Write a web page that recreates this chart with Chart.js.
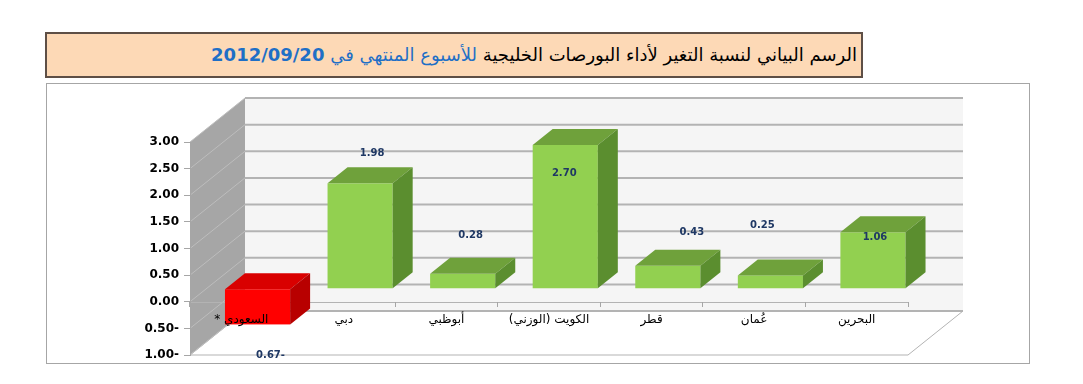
<!DOCTYPE html>
<html lang="ar">
<head>
<meta charset="utf-8">
<title>الرسم البياني لنسبة التغير لأداء البورصات الخليجية</title>
<script src="https://cdn.jsdelivr.net/npm/chart.js@4.4.1/dist/chart.umd.min.js"></script>
<style>
  html, body { margin: 0; padding: 0; background: #fff; }
  body { width: 1083px; height: 384px; position: relative; overflow: hidden; font-family: "DejaVu Sans", sans-serif; }
  #title {
    position: absolute; left: 45px; top: 32px; width: 818px; height: 46px;
    box-sizing: border-box; border: 2px solid #5e4f46; background: #fdd9b6;
    direction: rtl; text-align: right; padding-right: 4px;
    font-size: 18px; line-height: 42px; color: #000; white-space: nowrap;
  }
  #title .blue { color: #1f6fc6; }
  #box {
    position: absolute; left: 46px; top: 83px; width: 984px; height: 281px;
    box-sizing: border-box; border: 1px solid #a6a6a6; background: #fff;
  }
  #chart { position: absolute; left: 47px; top: 84px; display: block; }
</style>
</head>
<body>
<div id="title">الرسم البياني لنسبة التغير لأداء البورصات الخليجية <span class="blue">للأسبوع المنتهي في <b>2012/09/20</b></span></div>
<div id="box"></div>
<canvas id="chart" width="982" height="300"></canvas>

<script>
// weekly change (%) of the Gulf markets, week ending 2012/09/20
const markets = ['السعودي *', 'دبي', 'أبوظبي', 'الكويت (الوزني)', 'قطر', 'عُمان', 'البحرين'];
const changes = [-0.67, 1.98, 0.28, 2.70, 0.43, 0.25, 1.06];
const yTicks = [-1, -0.5, 0, 0.5, 1, 1.5, 2, 2.5, 3];

// where each value label sits, relative to the bar end (px)
const labelOffsets = [[13, 31], [12, -30], [8, -38], [-1, 28], [24, -33], [-8, -50], [2, 5]];

function fmt(v) {
  // Excel in RTL mode puts the minus sign after the number
  return v < 0 ? Math.abs(v).toFixed(2) + '-' : v.toFixed(2);
}

function poly(ctx, pts) {
  ctx.beginPath();
  ctx.moveTo(pts[0][0], pts[0][1]);
  for (let i = 1; i < pts.length; i++) ctx.lineTo(pts[i][0], pts[i][1]);
  ctx.closePath();
}

// fake the Excel 3D column look: walls, floor and boxed bars
const depth3d = {
  id: 'depth3d',
  beforeDraw(chart, args, opts) {
    const { ctx, chartArea: a, scales: { y } } = chart;
    const ox = opts.wall * opts.slant, oy = -opts.wall;
    ctx.save();

    // back wall
    ctx.fillStyle = opts.backColor;
    ctx.fillRect(a.left + ox, a.top + oy, a.width, a.height);

    // side wall
    ctx.fillStyle = opts.sideColor;
    poly(ctx, [[a.left, a.top], [a.left + ox, a.top + oy], [a.left + ox, a.bottom + oy], [a.left, a.bottom]]);
    ctx.fill();

    // floor
    ctx.fillStyle = '#fff';
    ctx.strokeStyle = opts.gridColor;
    ctx.lineWidth = 1;
    poly(ctx, [[a.left, a.bottom], [a.right, a.bottom], [a.right + ox, a.bottom + oy], [a.left + ox, a.bottom + oy]]);
    ctx.fill();
    ctx.stroke();

    // gridlines on the back and side walls
    y.ticks.forEach(t => {
      const py = y.getPixelForValue(t.value);
      ctx.strokeStyle = opts.gridColor;
      ctx.lineWidth = 2;
      ctx.beginPath();
      ctx.moveTo(a.left + ox, py + oy);
      ctx.lineTo(a.right + ox, py + oy);
      ctx.stroke();
      ctx.strokeStyle = opts.sideGrid;
      ctx.lineWidth = 1;
      ctx.beginPath();
      ctx.moveTo(a.left, py);
      ctx.lineTo(a.left + ox, py + oy);
      ctx.stroke();
    });

    // category axis line at zero
    const z = Math.round(y.getPixelForValue(0)) + 0.5;
    ctx.strokeStyle = opts.gridColor;
    ctx.lineWidth = 1;
    ctx.beginPath();
    ctx.moveTo(a.left, z);
    ctx.lineTo(a.right, z);
    ctx.stroke();
    ctx.restore();
  },
  afterDatasetsDraw(chart, args, opts) {
    const { ctx } = chart;
    const k = opts.slant, f = opts.barFront, b = opts.barBack;
    const dx = (b - f) * k, dy = -(b - f);
    const values = chart.data.datasets[0].data;
    const meta = chart.getDatasetMeta(0);
    ctx.save();
    meta.data.forEach((bar, i) => {
      const pal = values[i] < 0 ? opts.negative : opts.positive;
      const x0 = bar.x - bar.width / 2 + f * k;
      const x1 = bar.x + bar.width / 2 + f * k;
      const top = Math.min(bar.y, bar.base) - f;
      const bot = Math.max(bar.y, bar.base) - f;

      ctx.fillStyle = pal.front;
      ctx.fillRect(x0, top, x1 - x0, bot - top);
      ctx.fillStyle = pal.top;
      poly(ctx, [[x0, top], [x1, top], [x1 + dx, top + dy], [x0 + dx, top + dy]]);
      ctx.fill();
      ctx.fillStyle = pal.side;
      poly(ctx, [[x1, top], [x1 + dx, top + dy], [x1 + dx, bot + dy], [x1, bot]]);
      ctx.fill();
    });

    // value labels
    ctx.font = 'bold 10px "DejaVu Sans", sans-serif';
    ctx.fillStyle = opts.labelColor;
    ctx.textAlign = 'center';
    ctx.textBaseline = 'middle';
    meta.data.forEach((bar, i) => {
      const off = opts.offsets[i] || [0, -12];
      ctx.fillText(fmt(values[i]), bar.x + f * k + off[0], bar.y - f + off[1]);
    });
    ctx.restore();
  }
};

new Chart(document.getElementById('chart'), {
  type: 'bar',
  data: {
    labels: markets,
    datasets: [{
      data: changes,
      backgroundColor: 'rgba(0,0,0,0)',
      borderWidth: 0,
      barPercentage: 0.635,
      categoryPercentage: 1
    }]
  },
  options: {
    responsive: false,
    animation: false,
    layout: { padding: { left: 0, top: 58, right: 121, bottom: 29 } },
    plugins: {
      legend: { display: false },
      tooltip: { enabled: false },
      depth3d: {
        wall: 44,
        barFront: 13,
        barBack: 29,
        slant: 1.25,
        backColor: '#f5f5f5',
        sideColor: '#a6a6a6',
        sideGrid: '#bdbdbd',
        gridColor: '#b3b3b3',
        labelColor: '#1f3864',
        offsets: labelOffsets,
        positive: { front: '#92d050', top: '#6fa13b', side: '#5b8e2f' },
        negative: { front: '#ff0000', top: '#d90000', side: '#b80000' }
      }
    },
    scales: {
      x: {
        position: { y: 0 },
        border: { display: false },
        grid: { drawOnChartArea: false, drawTicks: true, tickLength: 5, color: '#a6a6a6' },
        ticks: {
          z: 1,
          autoSkip: false,
          maxRotation: 0,
          padding: 6,
          color: '#000',
          font: { family: '"DejaVu Sans", sans-serif', size: 12 },
          // RLM marks keep the Arabic labels in right-to-left order on the canvas
          callback(value) { return '\u200F' + this.getLabelForValue(value) + '\u200F'; }
        }
      },
      y: {
        min: -1,
        max: 3,
        afterBuildTicks(scale) { scale.ticks = yTicks.map(v => ({ value: v })); },
        afterFit(scale) { scale.width = 143; },
        border: { display: true, color: '#a6a6a6' },
        grid: { drawOnChartArea: false, drawTicks: true, tickLength: 6, color: '#a6a6a6' },
        ticks: {
          padding: 5,
          color: '#000',
          font: { family: '"DejaVu Sans", sans-serif', size: 12, weight: 'bold' },
          callback: v => fmt(v)
        }
      }
    }
  },
  plugins: [depth3d]
});
</script>
</body>
</html>
